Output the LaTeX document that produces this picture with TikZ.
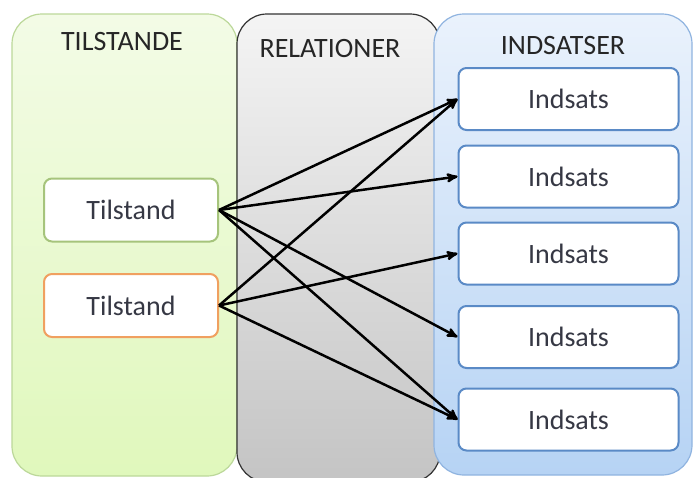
\documentclass[tikz,border=0pt]{standalone}
\usepackage{fontspec}
\setmainfont{Carlito}
\usetikzlibrary{arrows}
\usetikzlibrary{positioning}
\definecolor{greentop}{HTML}{F3FBE6}
\definecolor{greenbot}{HTML}{E0F8BC}
\definecolor{greenline}{HTML}{BCD89A}
\definecolor{graytop}{HTML}{F4F4F4}
\definecolor{graybot}{HTML}{C4C4C4}
\definecolor{bluetop}{HTML}{EAF2FC}
\definecolor{bluebot}{HTML}{B6D3F4}
\definecolor{blueline}{HTML}{90B4E0}
\definecolor{boxblue}{HTML}{5A8AC6}
\definecolor{boxgreen}{HTML}{A6C47C}
\definecolor{boxorange}{HTML}{F0A060}
\definecolor{txt}{HTML}{363844}

\begin{document}
\begin{tikzpicture}[x=1pt,y=-1pt]
  \tikzset{panel/.style={rounded corners=30pt, line width=1.2pt}}
  \tikzset{box/.style={draw, fill=white, rounded corners=8pt, line width=2pt,
      text=txt, font=\fontsize{28}{33}\selectfont}}
  \tikzset{tilstand/.style={box, minimum width=174pt, minimum height=63pt}}
  \tikzset{indsats/.style={box, draw=boxblue, minimum width=220pt, minimum height=62pt}}
  \tikzset{head/.style={text=black!85, font=\fontsize{28}{33}\selectfont}}
  \tikzset{line2/.style={draw, ->, >=stealth', line width=2.5pt}}

  \useasboundingbox[fill=white] (0,0) rectangle (696,477);

  % the three columns
  \path[panel, draw=greenline, top color=greentop, bottom color=greenbot]
    (12,14) rectangle (237,476);
  \path[panel, draw=black!80, top color=graytop, bottom color=graybot]
    (237,14) rectangle (440,482);
  \path[panel, draw=blueline, top color=bluetop, bottom color=bluebot]
    (434,14) rectangle (692,475);

  \node[head] (tilstande) at (122,42) {TILSTANDE};
  \node[head] (relationer) at (330,49) {RELATIONER};
  \node[head] (indsatser) at (563,46) {INDSATSER};

  \node[tilstand, draw=boxgreen] (t1) at (131,210) {Tilstand};
  \node[tilstand, draw=boxorange] (t2) at (131,305.5) {Tilstand};

  \foreach \y [count=\i] in {99,176.5,253.5,337,419.5}
    \node[indsats] (i\i) at (568.5,\y) {Indsats};

  % relationer
  \foreach \a/\b in {t1/i1,t1/i2,t1/i4,t1/i5,t2/i1,t2/i3,t2/i5}
    \path[line2] (\a.east) -- (\b.west);

\end{tikzpicture}
\end{document}
